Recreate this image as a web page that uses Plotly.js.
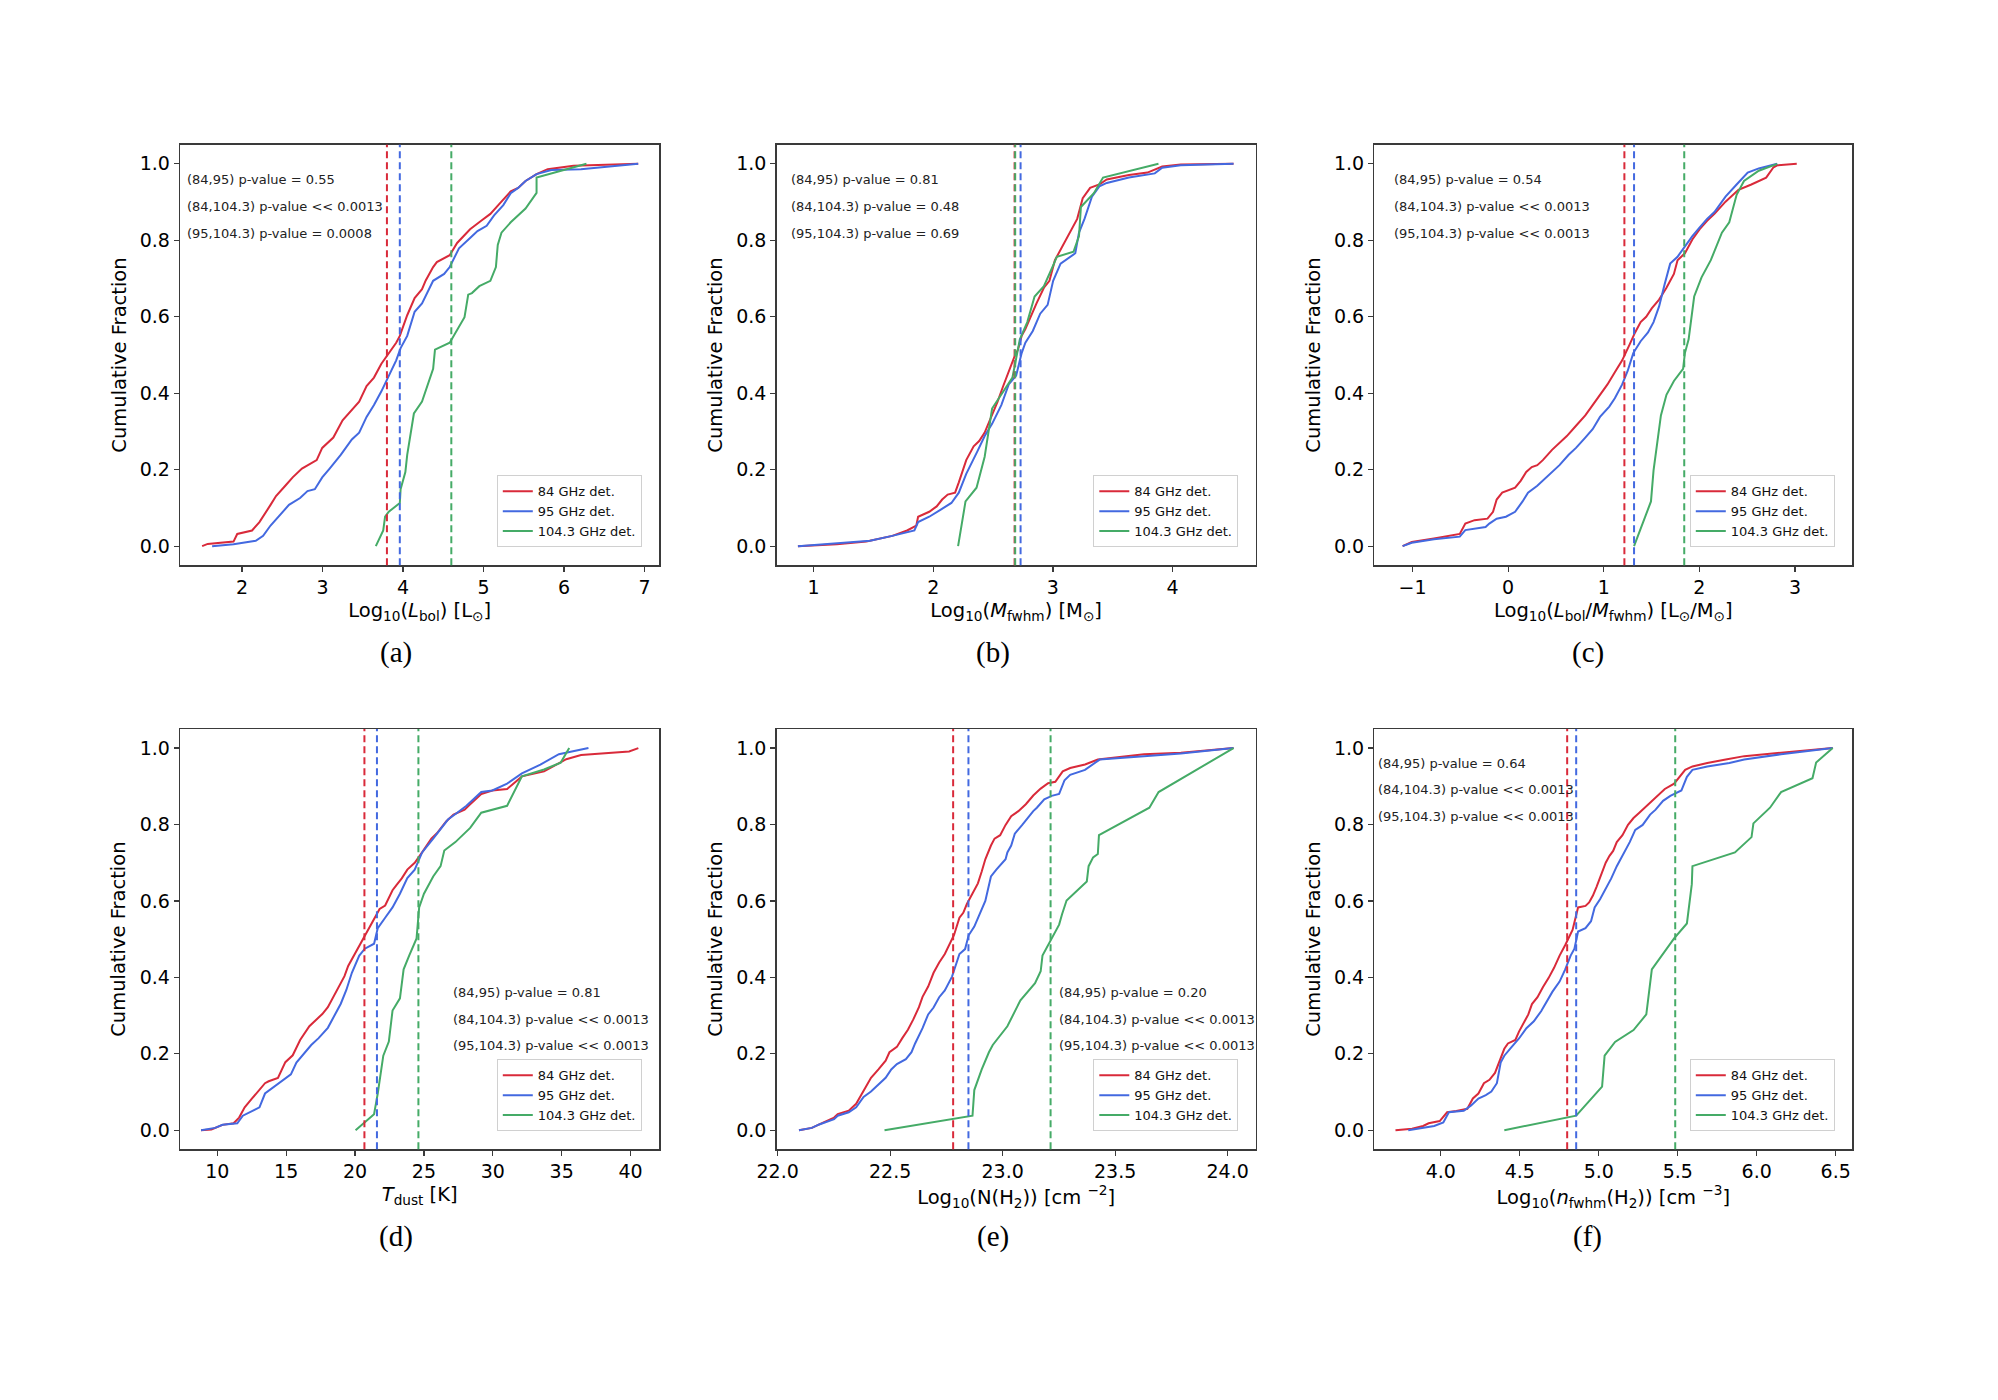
<!DOCTYPE html>
<html>
<head>
<meta charset="utf-8">
<script src="https://cdn.plot.ly/plotly-3.0.1.min.js"></script>
<style>html,body{margin:0;padding:0;background:#fff}#chart{width:1998px;height:1400px}</style>
</head>
<body>
<div id="chart"></div>
<script>
// ---------- DATA ----------
const seriesNames = ["84 GHz det.", "95 GHz det.", "104.3 GHz det."];
const panelLetters = ["(a)", "(b)", "(c)", "(d)", "(e)", "(f)"];
const xTitles = [
  "Log<sub>10</sub>(<i>L</i><sub>bol</sub>) [L<sub>⊙</sub>]",
  "Log<sub>10</sub>(<i>M</i><sub>fwhm</sub>) [M<sub>⊙</sub>]",
  "Log<sub>10</sub>(<i>L</i><sub>bol</sub>/<i>M</i><sub>fwhm</sub>) [L<sub>⊙</sub>/M<sub>⊙</sub>]",
  "<i>T</i><sub>dust</sub> [K]",
  "Log<sub>10</sub>(N(H<sub>2</sub>)) [cm <sup>−2</sup>]",
  "Log<sub>10</sub>(<i>n</i><sub>fwhm</sub>(H<sub>2</sub>)) [cm <sup>−3</sup>]"
];

// (a) Log10(Lbol)
const lbol84X = [1.504,1.573,1.894,1.940,2.124,2.216,2.354,2.422,2.537,2.629,2.744,2.859,2.927,2.996,3.134,3.249,3.364,3.455,3.547,3.639,3.731,3.823,3.915,3.960,4.052,4.144,4.236,4.282,4.374,4.420,4.580,4.672,4.833,4.971,5.085,5.200,5.338,5.430,5.522,5.659,5.797,6.118,6.922];
const lbol84Y = [0,0.006,0.012,0.032,0.041,0.063,0.108,0.131,0.158,0.180,0.203,0.216,0.225,0.257,0.284,0.329,0.356,0.378,0.419,0.441,0.477,0.505,0.532,0.550,0.604,0.649,0.672,0.695,0.730,0.743,0.761,0.793,0.829,0.851,0.869,0.896,0.928,0.937,0.955,0.973,0.986,0.995,1.0];
const lbol95X = [1.628,1.894,2.170,2.262,2.354,2.491,2.583,2.721,2.813,2.904,2.996,3.088,3.226,3.364,3.455,3.547,3.639,3.731,3.800,3.915,3.970,4.052,4.144,4.236,4.374,4.511,4.580,4.695,4.833,4.925,5.039,5.131,5.246,5.338,5.430,5.522,5.659,5.843,6.210,6.486,6.922];
const lbol95Y = [0,0.005,0.014,0.027,0.054,0.086,0.108,0.126,0.144,0.149,0.180,0.203,0.239,0.279,0.297,0.338,0.369,0.405,0.437,0.486,0.518,0.550,0.613,0.635,0.694,0.712,0.730,0.779,0.806,0.824,0.838,0.865,0.892,0.923,0.937,0.955,0.973,0.984,0.986,0.992,1.0];
const lbol104X = [3.662,3.754,3.777,3.823,3.960,3.970,4.029,4.052,4.135,4.236,4.374,4.397,4.580,4.764,4.810,4.856,4.948,5.085,5.154,5.177,5.223,5.338,5.522,5.659,5.659,5.981,6.279];
const lbol104Y = [0,0.041,0.077,0.090,0.113,0.149,0.194,0.239,0.347,0.378,0.464,0.514,0.532,0.599,0.658,0.662,0.680,0.694,0.730,0.788,0.820,0.847,0.883,0.924,0.964,0.982,1.0];

// (b) Log10(Mfwhm)
const mass84X = [0.870,1.195,1.442,1.534,1.658,1.782,1.859,1.874,1.967,2.029,2.075,2.121,2.183,2.214,2.276,2.338,2.384,2.430,2.492,2.538,2.585,2.631,2.678,2.708,2.739,2.770,2.817,2.863,2.925,2.971,3.017,3.064,3.110,3.156,3.203,3.249,3.311,3.388,3.450,3.635,3.790,3.913,4.068,4.509];
const mass84Y = [0,0.005,0.012,0.018,0.027,0.041,0.054,0.077,0.090,0.104,0.122,0.135,0.140,0.167,0.225,0.261,0.275,0.297,0.342,0.378,0.419,0.459,0.495,0.514,0.550,0.568,0.604,0.635,0.676,0.694,0.748,0.775,0.802,0.829,0.856,0.910,0.937,0.946,0.959,0.971,0.977,0.993,0.998,1.0];
const mass95X = [0.870,1.226,1.473,1.658,1.843,1.874,1.967,2.060,2.152,2.214,2.276,2.369,2.430,2.492,2.569,2.631,2.693,2.739,2.770,2.832,2.894,2.956,3.002,3.064,3.141,3.187,3.218,3.264,3.326,3.388,3.450,3.635,3.851,3.913,4.068,4.509];
const mass95Y = [0,0.009,0.014,0.027,0.041,0.063,0.077,0.095,0.113,0.140,0.189,0.248,0.288,0.320,0.369,0.423,0.446,0.505,0.532,0.563,0.608,0.631,0.694,0.739,0.757,0.766,0.820,0.856,0.914,0.941,0.950,0.964,0.975,0.990,0.996,1.0];
const mass104X = [2.208,2.270,2.362,2.430,2.492,2.585,2.662,2.724,2.786,2.847,2.925,3.002,3.033,3.172,3.218,3.234,3.342,3.419,3.882];
const mass104Y = [0,0.117,0.153,0.234,0.360,0.405,0.441,0.541,0.586,0.653,0.680,0.734,0.757,0.770,0.811,0.887,0.923,0.964,1.0];

// (c) Log10(Lbol/Mfwhm)
const ratio84X = [-1.104,-1.008,-0.776,-0.506,-0.448,-0.351,-0.216,-0.158,-0.120,-0.062,0.073,0.131,0.189,0.247,0.305,0.363,0.459,0.537,0.614,0.710,0.807,0.884,0.961,1.039,1.116,1.193,1.270,1.328,1.386,1.444,1.502,1.579,1.656,1.734,1.772,1.849,1.927,2.004,2.081,2.158,2.274,2.409,2.544,2.699,2.776,2.815,3.019];
const ratio84Y = [0,0.011,0.020,0.032,0.059,0.068,0.072,0.090,0.122,0.140,0.153,0.171,0.194,0.207,0.212,0.225,0.252,0.270,0.288,0.315,0.342,0.369,0.396,0.423,0.455,0.486,0.527,0.559,0.586,0.600,0.622,0.645,0.676,0.712,0.748,0.766,0.802,0.829,0.851,0.869,0.901,0.932,0.946,0.964,0.991,0.996,1.0];
const ratio95X = [-1.104,-1.008,-0.776,-0.506,-0.448,-0.236,-0.197,-0.120,-0.023,0.073,0.151,0.208,0.305,0.382,0.479,0.537,0.633,0.710,0.807,0.884,0.961,1.058,1.116,1.193,1.251,1.309,1.386,1.463,1.521,1.579,1.637,1.695,1.772,1.849,1.927,2.004,2.081,2.158,2.274,2.390,2.506,2.622,2.815];
const ratio95Y = [0,0.009,0.018,0.025,0.042,0.050,0.059,0.072,0.077,0.090,0.117,0.140,0.158,0.176,0.198,0.212,0.239,0.257,0.284,0.306,0.338,0.365,0.387,0.423,0.459,0.505,0.536,0.559,0.586,0.627,0.685,0.739,0.757,0.784,0.811,0.834,0.856,0.874,0.914,0.946,0.977,0.988,1.0];
const ratio104X = [1.317,1.444,1.494,1.521,1.560,1.598,1.656,1.734,1.830,1.849,1.888,1.946,2.023,2.120,2.236,2.313,2.390,2.467,2.622,2.815];
const ratio104Y = [0,0.081,0.117,0.198,0.270,0.342,0.396,0.432,0.464,0.505,0.541,0.653,0.703,0.748,0.820,0.847,0.919,0.955,0.982,1.0];

// (d) Tdust
const tdust84X = [8.819,9.571,10.376,11.181,11.583,11.986,12.523,13.060,13.462,13.731,14.402,14.938,15.475,16.012,16.683,17.085,17.622,18.025,18.427,18.830,19.232,19.501,20.038,20.574,21.111,21.782,22.185,22.453,22.721,22.990,23.392,23.795,24.332,24.868,25.539,25.942,26.613,27.150,27.955,28.358,29.163,29.968,31.041,32.115,33.725,35.335,36.409,39.898,40.569];
const tdust84Y = [0,0.002,0.014,0.018,0.033,0.060,0.083,0.105,0.123,0.128,0.137,0.178,0.196,0.236,0.272,0.286,0.304,0.322,0.349,0.376,0.403,0.430,0.466,0.502,0.538,0.579,0.588,0.610,0.628,0.641,0.659,0.682,0.700,0.727,0.763,0.777,0.808,0.826,0.839,0.853,0.880,0.889,0.893,0.926,0.939,0.971,0.982,0.991,1.0];
const tdust95X = [8.819,9.839,10.376,11.449,11.852,12.523,13.060,13.462,13.999,14.670,15.341,15.743,16.280,16.817,17.354,18.025,18.427,18.964,19.367,19.769,20.306,20.709,21.380,21.648,22.185,22.721,23.258,23.795,24.332,24.868,25.673,26.076,26.747,27.418,28.089,29.163,29.968,31.041,32.115,33.457,34.799,36.946];
const tdust95Y = [0,0.006,0.014,0.018,0.038,0.051,0.060,0.096,0.110,0.128,0.146,0.177,0.200,0.223,0.241,0.268,0.295,0.331,0.367,0.412,0.457,0.475,0.488,0.529,0.556,0.583,0.619,0.660,0.682,0.727,0.763,0.781,0.813,0.831,0.849,0.885,0.889,0.907,0.934,0.957,0.984,1.0];
const tdust104X = [20.038,21.380,21.648,22.050,22.453,22.721,23.258,23.526,23.929,24.466,24.654,25.003,25.673,26.210,26.479,27.284,28.358,29.163,31.041,32.115,33.725,34.933,35.550];
const tdust104Y = [0,0.042,0.096,0.195,0.232,0.313,0.345,0.421,0.457,0.502,0.583,0.619,0.664,0.691,0.732,0.754,0.791,0.831,0.849,0.926,0.944,0.962,1.0];

// (e) Log10(N(H2))
const colden84X = [22.095,22.152,22.202,22.251,22.267,22.316,22.349,22.374,22.398,22.415,22.448,22.480,22.497,22.530,22.554,22.579,22.603,22.628,22.644,22.669,22.693,22.718,22.743,22.767,22.784,22.808,22.825,22.841,22.866,22.890,22.907,22.923,22.948,22.964,22.989,23.013,23.038,23.070,23.103,23.136,23.169,23.202,23.234,23.267,23.300,23.366,23.423,23.464,23.628,23.792,24.026];
const colden84Y = [0,0.006,0.020,0.033,0.042,0.051,0.069,0.096,0.119,0.137,0.159,0.182,0.204,0.218,0.241,0.263,0.290,0.322,0.349,0.376,0.412,0.439,0.461,0.488,0.511,0.556,0.569,0.592,0.619,0.646,0.677,0.709,0.745,0.763,0.772,0.799,0.822,0.835,0.853,0.876,0.894,0.908,0.912,0.939,0.948,0.957,0.970,0.973,0.984,0.988,1.0];
const colden95X = [22.095,22.152,22.185,22.251,22.267,22.316,22.349,22.382,22.415,22.448,22.480,22.505,22.530,22.570,22.595,22.611,22.644,22.669,22.693,22.718,22.743,22.775,22.808,22.833,22.849,22.874,22.898,22.923,22.948,22.972,23.013,23.021,23.038,23.054,23.087,23.111,23.136,23.152,23.185,23.218,23.251,23.275,23.300,23.366,23.431,23.628,23.792,24.026];
const colden95Y = [0,0.006,0.015,0.029,0.038,0.047,0.060,0.087,0.101,0.119,0.137,0.159,0.173,0.186,0.204,0.227,0.267,0.303,0.321,0.348,0.366,0.402,0.461,0.474,0.510,0.533,0.564,0.600,0.664,0.682,0.709,0.727,0.745,0.776,0.799,0.817,0.835,0.844,0.866,0.875,0.880,0.916,0.930,0.943,0.970,0.979,0.986,1.0];
const colden104X = [22.475,22.866,22.874,22.907,22.939,22.956,23.021,23.079,23.144,23.169,23.177,23.218,23.251,23.264,23.284,23.374,23.382,23.402,23.423,23.428,23.652,23.693,24.026];
const colden104Y = [0,0.038,0.105,0.159,0.204,0.223,0.272,0.340,0.385,0.416,0.457,0.502,0.538,0.565,0.601,0.651,0.691,0.714,0.723,0.772,0.844,0.885,1.0];

// (f) Log10(n_fwhm(H2))
const dens84X = [3.713,3.818,3.888,3.923,3.993,4.040,4.098,4.168,4.203,4.238,4.273,4.308,4.343,4.367,4.402,4.425,4.472,4.495,4.519,4.554,4.577,4.612,4.647,4.682,4.717,4.752,4.787,4.834,4.869,4.916,4.939,4.963,4.986,5.021,5.044,5.068,5.091,5.114,5.150,5.185,5.220,5.255,5.301,5.336,5.371,5.418,5.477,5.547,5.593,5.687,5.804,5.921,6.154,6.481];
const dens84Y = [0,0.004,0.011,0.018,0.024,0.047,0.050,0.056,0.083,0.096,0.123,0.132,0.150,0.177,0.213,0.227,0.236,0.258,0.276,0.303,0.330,0.348,0.375,0.398,0.425,0.457,0.484,0.524,0.583,0.587,0.596,0.614,0.637,0.673,0.700,0.718,0.731,0.754,0.772,0.799,0.817,0.830,0.848,0.862,0.875,0.893,0.907,0.943,0.952,0.961,0.970,0.979,0.988,1.0];
const dens95X = [3.794,3.888,3.958,4.016,4.051,4.145,4.192,4.238,4.285,4.320,4.355,4.379,4.402,4.449,4.495,4.542,4.589,4.636,4.671,4.706,4.752,4.787,4.822,4.846,4.869,4.916,4.951,4.974,5.009,5.044,5.079,5.114,5.150,5.196,5.231,5.278,5.325,5.360,5.407,5.453,5.523,5.558,5.593,5.687,5.827,5.921,6.154,6.481];
const dens95Y = [0,0.006,0.011,0.020,0.047,0.051,0.065,0.083,0.092,0.101,0.123,0.177,0.195,0.218,0.240,0.267,0.285,0.312,0.339,0.362,0.389,0.420,0.457,0.475,0.520,0.529,0.547,0.583,0.605,0.632,0.659,0.691,0.718,0.754,0.786,0.799,0.826,0.839,0.862,0.875,0.889,0.925,0.943,0.952,0.961,0.970,0.984,1.0];
const dens104X = [4.402,4.857,5.021,5.037,5.103,5.220,5.301,5.336,5.477,5.558,5.589,5.593,5.862,5.967,5.979,6.084,6.154,6.353,6.376,6.481];
const dens104Y = [0,0.038,0.114,0.195,0.231,0.262,0.303,0.421,0.502,0.541,0.644,0.691,0.727,0.767,0.803,0.844,0.885,0.921,0.962,1.0];

// medians (dashed lines): [84, 95, 104.3]
const lbolMedians = [3.80, 3.96, 4.60];
const massMedians = [2.68, 2.73, 2.685];
const ratioMedians = [1.216, 1.317, 1.842];
const tdustMedians = [20.68, 21.59, 24.60];
const coldenMedians = [22.78, 22.848, 23.213];
const densMedians = [4.80, 4.857, 5.484];

// KS test annotations
const lbolPvals = ["(84,95) p-value = 0.55", "(84,104.3) p-value &lt;&lt; 0.0013", "(95,104.3) p-value = 0.0008"];
const massPvals = ["(84,95) p-value = 0.81", "(84,104.3) p-value = 0.48", "(95,104.3) p-value = 0.69"];
const ratioPvals = ["(84,95) p-value = 0.54", "(84,104.3) p-value &lt;&lt; 0.0013", "(95,104.3) p-value &lt;&lt; 0.0013"];
const tdustPvals = ["(84,95) p-value = 0.81", "(84,104.3) p-value &lt;&lt; 0.0013", "(95,104.3) p-value &lt;&lt; 0.0013"];
const coldenPvals = ["(84,95) p-value = 0.20", "(84,104.3) p-value &lt;&lt; 0.0013", "(95,104.3) p-value &lt;&lt; 0.0013"];
const densPvals = ["(84,95) p-value = 0.64", "(84,104.3) p-value &lt;&lt; 0.0013", "(95,104.3) p-value &lt;&lt; 0.0013"];

// ---------- STYLE / LAYOUT ----------
const W = 1998, H = 1400;
const FONT = "DejaVu Sans, Liberation Sans, sans-serif";
const colors = ["#d92a3a", "#4369e0", "#45ab67"];
const colPx = [[180, 659.3], [776.5, 1255.8], [1374.3, 1852.3]];
const rowPx = [[144.7, 565.3], [729, 1149.3]];
const captionX = [396, 992.6, 1587.6];
const captionY = [652, 1236];

const panels = [
  {xs:[lbol84X,lbol95X,lbol104X], ys:[lbol84Y,lbol95Y,lbol104Y], med:lbolMedians, pv:lbolPvals, range:[1.229,7.184], dtick:1, fmt:"d", px:0.011, py:[0.959,0.889,0.819]},
  {xs:[mass84X,mass95X,mass104X], ys:[mass84Y,mass95Y,mass104Y], med:massMedians, pv:massPvals, range:[0.691,4.695], dtick:1, fmt:"d", px:0.027, py:[0.959,0.889,0.819]},
  {xs:[ratio84X,ratio95X,ratio104X], ys:[ratio84Y,ratio95Y,ratio104Y], med:ratioMedians, pv:ratioPvals, range:[-1.40,3.60], dtick:1, fmt:"d", px:0.036, py:[0.959,0.889,0.819]},
  {xs:[tdust84X,tdust95X,tdust104X], ys:[tdust84Y,tdust95Y,tdust104Y], med:tdustMedians, pv:tdustPvals, range:[7.29,42.09], dtick:5, fmt:"d", px:0.565, py:[0.361,0.291,0.221]},
  {xs:[colden84X,colden95X,colden104X], ys:[colden84Y,colden95Y,colden104Y], med:coldenMedians, pv:coldenPvals, range:[21.995,24.125], dtick:0.5, fmt:".1f", px:0.585, py:[0.361,0.291,0.221]},
  {xs:[dens84X,dens95X,dens104X], ys:[dens84Y,dens95Y,dens104Y], med:densMedians, pv:densPvals, range:[3.579,6.605], dtick:0.5, fmt:".1f", px:0.004, py:[0.959,0.891,0.821]}
];

const traces = [];
const layout = {
  width: W, height: H,
  margin: {l:0, r:0, t:0, b:0},
  paper_bgcolor: "#ffffff", plot_bgcolor: "#ffffff",
  font: {family: FONT, color: "#000"},
  showlegend: true,
  shapes: [], annotations: []
};

panels.forEach((p, i) => {
  const r = Math.floor(i / 3), c = i % 3;
  const sfx = i === 0 ? "" : String(i + 1);
  const xa = "x" + sfx, ya = "y" + sfx;
  const legName = i === 0 ? "legend" : "legend" + (i + 1);
  const xd = [colPx[c][0] / W, colPx[c][1] / W];
  const yd = [1 - rowPx[r][1] / H, 1 - rowPx[r][0] / H];

  const axCommon = {
    showline: true, mirror: true, linecolor: "#3a3a3a", linewidth: 1.3,
    ticks: "outside", ticklen: 5, tickwidth: 1.2, tickcolor: "#3a3a3a",
    showgrid: false, zeroline: false,
    tickfont: {family: FONT, size: 19, color: "#000"}
  };
  layout["xaxis" + sfx] = Object.assign({}, axCommon, {
    domain: xd, anchor: ya, range: p.range, dtick: p.dtick, tick0: 0,
    tickformat: p.fmt,
    title: {text: xTitles[i], font: {family: FONT, size: 19.5, color: "#000"}, standoff: 6}
  });
  layout["yaxis" + sfx] = Object.assign({}, axCommon, {
    domain: yd, anchor: xa, range: [-0.05, 1.05], dtick: 0.2, tick0: 0,
    tickformat: ".1f",
    title: {text: "Cumulative Fraction", font: {family: FONT, size: 19.5, color: "#000"}, standoff: 8}
  });

  layout[legName] = {
    x: (colPx[c][1] - 17.5) / W, y: 1 - (rowPx[r][1] - 18) / H,
    xanchor: "right", yanchor: "bottom",
    bgcolor: "rgba(255,255,255,0.85)", bordercolor: "#d0d0d0", borderwidth: 1,
    font: {family: FONT, size: 13, color: "#111"},
    tracegroupgap: 0
  };

  for (let k = 0; k < 3; k++) {
    traces.push({
      type: "scatter", mode: "lines",
      x: p.xs[k], y: p.ys[k],
      xaxis: xa, yaxis: ya,
      name: seriesNames[k], legend: legName,
      line: {color: colors[k], width: 2},
      hoverinfo: "skip"
    });
  }
  for (let k = 0; k < 3; k++) {
    layout.shapes.push({
      type: "line", xref: xa, yref: ya + " domain",
      x0: p.med[k], x1: p.med[k], y0: 0, y1: 1,
      line: {color: colors[k], width: 2, dash: "7px,4px"}
    });
  }
  for (let k = 0; k < 3; k++) {
    layout.annotations.push({
      xref: xa + " domain", yref: ya, x: p.px, y: p.py[k],
      xanchor: "left", yanchor: "middle", showarrow: false,
      text: p.pv[k], font: {family: FONT, size: 13, color: "#222"}
    });
  }
  layout.annotations.push({
    xref: "paper", yref: "paper",
    x: captionX[c] / W, y: 1 - captionY[r] / H,
    xanchor: "center", yanchor: "middle", showarrow: false,
    text: panelLetters[i],
    font: {family: "Liberation Serif, Times New Roman, serif", size: 29, color: "#000"}
  });
});

Plotly.newPlot("chart", traces, layout, {displayModeBar: false, staticPlot: true});
</script>
</body>
</html>
